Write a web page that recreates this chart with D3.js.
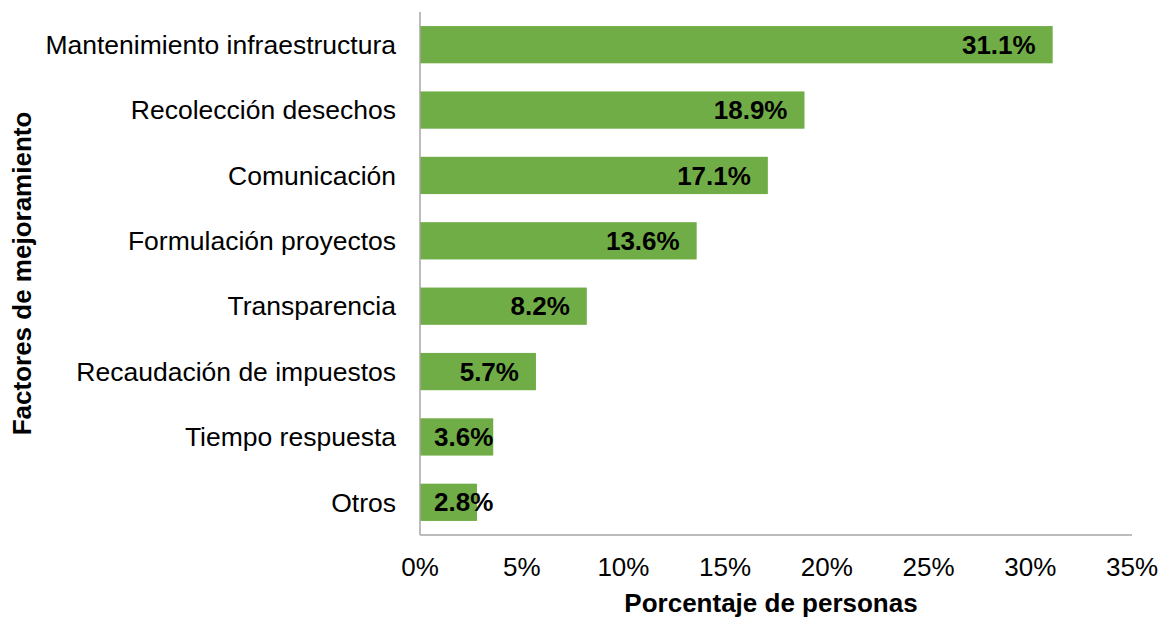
<!DOCTYPE html>
<html>
<head>
<meta charset="utf-8">
<script src="https://cdn.jsdelivr.net/npm/d3@7"></script>
<style>
  body { margin: 0; background: #fff; }
  svg text { font-family: "Liberation Sans", Arial, sans-serif; fill: #000; }
</style>
</head>
<body>
<div id="chart"></div>
<script>
const categories = [
  'Mantenimiento infraestructura',
  'Recolección desechos',
  'Comunicación',
  'Formulación proyectos',
  'Transparencia',
  'Recaudación de impuestos',
  'Tiempo respuesta',
  'Otros'
];
const values = [31.1, 18.9, 17.1, 13.6, 8.2, 5.7, 3.6, 2.8];
const xTicks = [0, 5, 10, 15, 20, 25, 30, 35];

const width = 1161, height = 617;
const margin = {top: 12, right: 29, bottom: 82, left: 420};
const plotW = width - margin.left - margin.right;
const plotH = height - margin.top - margin.bottom;

const svg = d3.select('#chart').append('svg')
    .attr('width', width).attr('height', height);
const g = svg.append('g')
    .attr('transform', 'translate(' + margin.left + ',' + margin.top + ')');

const x = d3.scaleLinear().domain([0, 35]).range([0, plotW]);
const y = d3.scaleBand().domain(categories).range([0, plotH])
    .paddingInner(0.43).paddingOuter(0.215);

const data = categories.map((c, i) => ({cat: c, v: values[i]}));

// bars
g.selectAll('rect.bar')
    .data(data)
    .enter().append('rect')
    .attr('class', 'bar')
    .attr('x', 0)
    .attr('y', d => y(d.cat))
    .attr('width', d => x(d.v))
    .attr('height', y.bandwidth())
    .attr('fill', '#70AD47');

// axes lines
g.append('line')
    .attr('x1', 0).attr('x2', 0).attr('y1', 0).attr('y2', plotH)
    .attr('stroke', '#A6A6A6').attr('stroke-width', 1.5);
g.append('line')
    .attr('x1', 0).attr('x2', plotW).attr('y1', plotH).attr('y2', plotH)
    .attr('stroke', '#A6A6A6').attr('stroke-width', 1.5);

// category labels
g.selectAll('text.cat')
    .data(categories)
    .enter().append('text')
    .attr('class', 'cat')
    .attr('x', -24)
    .attr('y', d => y(d) + y.bandwidth() / 2)
    .attr('dy', '0.35em')
    .attr('text-anchor', 'end')
    .style('font-size', '26.5px')
    .text(d => d);

// x tick labels
g.selectAll('text.tick')
    .data(xTicks)
    .enter().append('text')
    .attr('class', 'tick')
    .attr('x', d => x(d))
    .attr('y', plotH + 32)
    .attr('dy', '0.35em')
    .attr('text-anchor', 'middle')
    .style('font-size', '26px')
    .text(d => d + '%');

// value labels (inside end, pushed right when bar is short)
g.selectAll('text.val')
    .data(data)
    .enter().append('text')
    .attr('class', 'val')
    .attr('y', d => y(d.cat) + y.bandwidth() / 2)
    .attr('dy', '0.35em')
    .attr('text-anchor', 'end')
    .style('font-size', '26px')
    .style('font-weight', 'bold')
    .text(d => d.v.toFixed(1) + '%')
    .attr('x', function(d) {
        const w = this.getComputedTextLength();
        return Math.max(x(d.v) - 17, 14 + w);
    });

// axis titles
svg.append('text')
    .attr('x', margin.left + plotW / 2 - 5)
    .attr('y', 603)
    .attr('dy', '0.35em')
    .attr('text-anchor', 'middle')
    .style('font-size', '26px')
    .style('font-weight', 'bold')
    .text('Porcentaje de personas');

svg.append('text')
    .attr('transform', 'translate(22,' + (margin.top + plotH / 2) + ') rotate(-90)')
    .attr('dy', '0.35em')
    .attr('text-anchor', 'middle')
    .style('font-size', '26px')
    .style('font-weight', 'bold')
    .text('Factores de mejoramiento');
</script>
</body>
</html>
